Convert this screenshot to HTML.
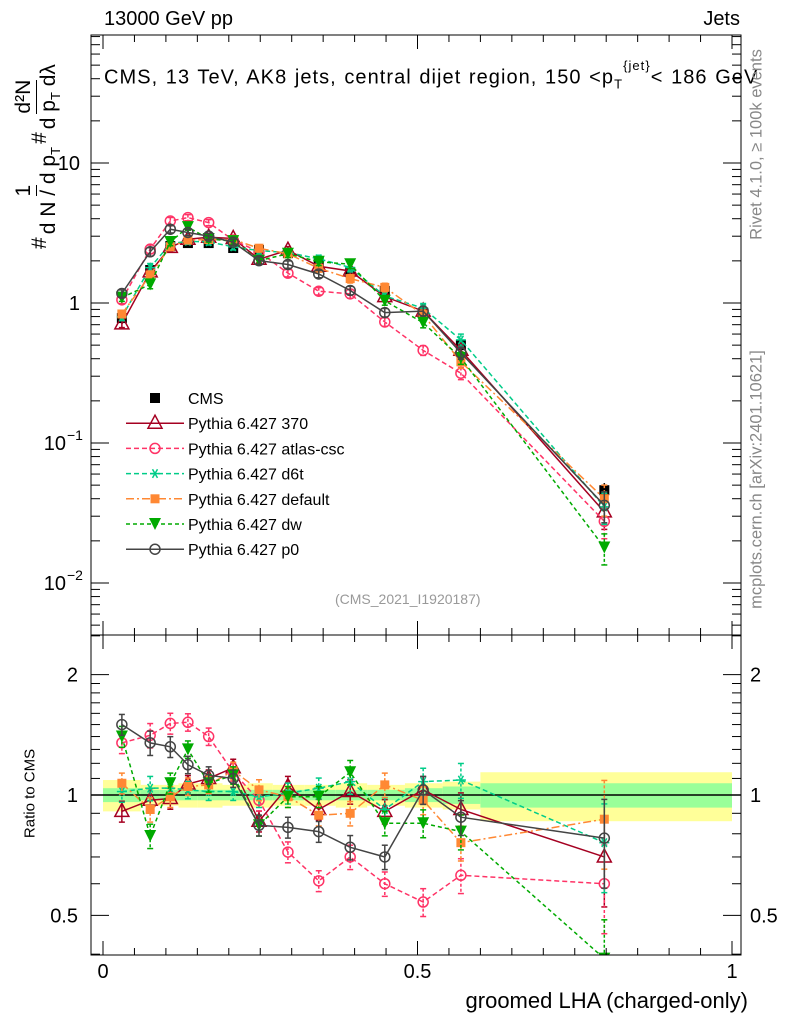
<!DOCTYPE html>
<html><head><meta charset="utf-8"><style>
body{margin:0;background:#fff;font-family:"Liberation Sans",sans-serif}
svg text{font-family:"Liberation Sans",sans-serif}
.fr{display:inline-flex;flex-direction:column;align-items:center;vertical-align:middle;margin:0 3px}
.fr span{line-height:24px}
.fr .num{border-bottom:1.5px solid #000}
</style></head><body>
<svg id="c" width="786" height="1024" xmlns="http://www.w3.org/2000/svg"></svg>
<script>
const xCenters=[0.03,0.075,0.107,0.135,0.168,0.207,0.248,0.294,0.343,0.393,0.448,0.509,0.569,0.797];
const binEdges=[0,0.06,0.09,0.12,0.15,0.19,0.23,0.27,0.32,0.37,0.42,0.48,0.54,0.6,1.0];
const cmsVals=[0.78,1.72,2.55,2.68,2.68,2.47,2.39,2.27,1.99,1.66,1.22,0.85,0.50,0.046];
const relErr=[0.06,0.07,0.06,0.05,0.05,0.05,0.06,0.06,0.06,0.07,0.07,0.08,0.1,0.25];
const bandYellow=[0.09,0.06,0.06,0.07,0.07,0.06,0.07,0.06,0.06,0.07,0.06,0.07,0.08,0.14];
const bandGreen=[0.04,0.03,0.03,0.03,0.03,0.03,0.03,0.03,0.03,0.03,0.03,0.04,0.05,0.07];
const r370=[0.91,0.97,0.98,1.065,1.10,1.17,0.86,1.05,0.92,1.02,0.91,1.03,0.92,0.70];
const rAtlas=[1.35,1.41,1.51,1.52,1.40,1.14,0.97,0.72,0.61,0.70,0.60,0.54,0.63,0.60];
const rD6t=[1.02,1.04,1.04,1.03,1.02,1.02,0.99,1.01,1.04,1.08,0.92,1.08,1.09,0.76];
const rDefault=[1.07,0.92,0.99,1.05,1.06,1.15,1.03,0.99,0.89,0.90,1.06,0.97,0.76,0.87];
const rDw=[1.40,0.79,1.07,1.30,1.07,1.12,0.84,0.99,0.99,1.14,0.85,0.85,0.81,0.39];
const rP0=[1.50,1.35,1.32,1.19,1.12,1.10,0.84,0.83,0.81,0.74,0.70,1.03,0.88,0.78];
const seriesNames=["Pythia 6.427 370","Pythia 6.427 atlas-csc","Pythia 6.427 d6t","Pythia 6.427 default","Pythia 6.427 dw","Pythia 6.427 p0"];

const NS="http://www.w3.org/2000/svg";const svg=document.getElementById('c');
function el(t,a,p){const e=document.createElementNS(NS,t);for(const k in a)e.setAttribute(k,a[k]);(p||svg).appendChild(e);return e;}
const L=91,R=741,MT=35,MB=635,RB=955;
const X=v=>103+v*629;
const YM=v=>303-Math.log10(v)*140;
const YR=v=>795-Math.log10(v)*400;
const defs=el('defs',{});
const c1=el('clipPath',{id:'cm'},defs);el('rect',{x:L,y:MT,width:R-L,height:MB-MT},c1);
const c2=el('clipPath',{id:'cr'},defs);el('rect',{x:L,y:MB,width:R-L,height:RB-MB},c2);
const gM=el('g',{'clip-path':'url(#cm)'});
const gR=el('g',{'clip-path':'url(#cr)'});
for(let i=0;i<xCenters.length;i++){
 const x0=X(binEdges[i]),x1=X(binEdges[i+1]);
 const y=el('rect',{x:x0,y:YR(1+bandYellow[i]),width:x1-x0,height:YR(1-bandYellow[i])-YR(1+bandYellow[i]),fill:'#ffff99'},gR);
 
 const g=el('rect',{x:x0,y:YR(1+bandGreen[i]),width:x1-x0,height:YR(1-bandGreen[i])-YR(1+bandGreen[i]),fill:'#99ff99'},gR);
 
}
el('line',{x1:L,x2:R,y1:YR(1),y2:YR(1),stroke:'#000','stroke-width':1.5},gR);
const styles=[
 {c:'#a50021',d:'',m:'tri'},
 {c:'#ff3366',d:'5,3',m:'circ'},
 {c:'#00cc88',d:'5,3',m:'star'},
 {c:'#ff8833',d:'8,3,2,3',m:'sq'},
 {c:'#00aa00',d:'4,3',m:'tdown'},
 {c:'#444444',d:'',m:'circ'}];
const ratios=[r370,rAtlas,rD6t,rDefault,rDw,rP0];
function marker(g,m,x,y,c){
 if(m=='tri')el('polygon',{points:`${x},${y-8} ${x-7},${y+5} ${x+7},${y+5}`,fill:'#fff','fill-opacity':0,stroke:c,'stroke-width':1.5},g);
 else if(m=='circ')el('circle',{cx:x,cy:y,r:5,fill:'none',stroke:c,'stroke-width':1.5},g);
 else if(m=='sq')el('rect',{x:x-4.5,y:y-4.5,width:9,height:9,fill:c},g);
 else if(m=='tdown')el('polygon',{points:`${x-6},${y-6} ${x+6},${y-6} ${x},${y+6}`,fill:c},g);
 else if(m=='star'){for(const a of [0,60,120])el('line',{x1:x-5*Math.cos(a*Math.PI/180),y1:y-5*Math.sin(a*Math.PI/180),x2:x+5*Math.cos(a*Math.PI/180),y2:y+5*Math.sin(a*Math.PI/180),stroke:c,'stroke-width':1.5},g);}
 else if(m=='blk')el('rect',{x:x-5,y:y-5,width:10,height:10,fill:'#000'},g);
}
const gc=el('g',{},gM);
xCenters.forEach((xv,i)=>{const v=cmsVals[i];
 el('line',{x1:X(xv),x2:X(xv),y1:YM(v*(1+relErr[i]*0.5)),y2:YM(v*(1-relErr[i]*0.5)),stroke:'#000','stroke-width':1.5},gc);
 marker(gc,'blk',X(xv),YM(v),'#000');});
styles.forEach((s,k)=>{
 const r=ratios[k];
 for(const [g,Y,val] of [[gM,YM,i=>cmsVals[i]*r[i]],[gR,YR,i=>r[i]]]){
  const gs=el('g',{},g);
  const pts=xCenters.map((xv,i)=>X(xv)+','+Y(val(i))).join(' ');
  el('polyline',{points:pts,fill:'none',stroke:s.c,'stroke-width':1.5,'stroke-dasharray':s.d},gs);
  xCenters.forEach((xv,i)=>{const v=val(i),e=relErr[i];const x=X(xv);
   el('line',{x1:x,x2:x,y1:Y(v*(1+e)),y2:Y(v*(1-e)),stroke:s.c,'stroke-width':1.5,'stroke-dasharray':s.d?'3,2':''},gs);
   el('line',{x1:x-3,x2:x+3,y1:Y(v*(1+e)),y2:Y(v*(1+e)),stroke:s.c,'stroke-width':1.5},gs);
   el('line',{x1:x-3,x2:x+3,y1:Y(v*(1-e)),y2:Y(v*(1-e)),stroke:s.c,'stroke-width':1.5},gs);
   marker(gs,s.m,x,Y(v),s.c);});
 }
});
el('rect',{x:L,y:MT,width:R-L,height:MB-MT,fill:'none',stroke:'#000','stroke-width':1});
el('rect',{x:L,y:MB,width:R-L,height:RB-MB,fill:'none',stroke:'#000','stroke-width':1});
for(let v=0;v<=1.0001;v+=0.05){const major=Math.round(v*100)%50==0;const len=major?14:7;const x=X(v);
 for(const [t,b] of [[MT,MB],[MB,RB]]){el('line',{x1:x,x2:x,y1:b,y2:b-len,stroke:'#000'});el('line',{x1:x,x2:x,y1:t,y2:t+len,stroke:'#000'});}}
[['0',0],['0.5',0.5],['1',1]].forEach(([t,v])=>{const e=el('text',{x:X(v),y:978,'font-size':20,'text-anchor':'middle'});e.textContent=t;});
for(let d=-3;d<=2;d++)for(let m=1;m<10;m++){const v=m*Math.pow(10,d);const y=YM(v);if(y<MT||y>MB)continue;const len=m==1?18:9;
 el('line',{x1:L,x2:L+len,y1:y,y2:y,stroke:'#000'});el('line',{x1:R,x2:R-len,y1:y,y2:y,stroke:'#000'});}
[['10',10],['1',1]].forEach(([t,v])=>{const e=el('text',{x:80,y:YM(v)+7,'font-size':20,'text-anchor':'end'});e.textContent=t;});
[['10',0.1,'−1'],['10',0.01,'−2']].forEach(([t,v,s])=>{const e=el('text',{x:66,y:YM(v)+7,'font-size':20,'text-anchor':'end'});e.textContent=t;const ee=el('text',{x:67,y:YM(v)-3,'font-size':14});ee.textContent=s;});
for(const v of [0.4,0.5,0.6,0.7,0.8,0.9,1,1.1,1.2,1.3,1.4,1.5,1.6,1.7,1.8,1.9,2,2.5]){const y=YR(v);if(y<MB||y>RB)continue;const len=(v==0.5||v==1||v==2)?18:9;
 el('line',{x1:L,x2:L+len,y1:y,y2:y,stroke:'#000'});el('line',{x1:R,x2:R-len,y1:y,y2:y,stroke:'#000'});}
[['2',2],['1',1],['0.5',0.5]].forEach(([t,v])=>{const a=el('text',{x:78,y:YR(v)+7,'font-size':20,'text-anchor':'end'});a.textContent=t;
 const b=el('text',{x:750,y:YR(v)+7,'font-size':20});b.textContent=t;});
const lg=el('g',{});
const ly0=398,ldy=25.2;
marker(lg,'blk',155,ly0,'#000');{const t=el('text',{x:188,y:ly0+6,'font-size':16},lg);t.textContent='CMS';}
styles.forEach((s,k)=>{const y=ly0+ldy*(k+1);const g=el('g',{},lg);
 el('line',{x1:126,x2:184,y1:y,y2:y,stroke:s.c,'stroke-width':1.5,'stroke-dasharray':s.d},g);marker(g,s.m,155,y,s.c);
 const t=el('text',{x:188,y:y+6,'font-size':16},g);t.textContent=seriesNames[k];});
</script>
<div style="position:absolute;left:104px;top:8px;font-size:20px">13000 GeV pp</div>
<div style="position:absolute;right:46px;top:8px;font-size:20px">Jets</div>
<div style="position:absolute;left:104px;top:64px;font-size:20px;letter-spacing:1.05px;word-spacing:1px;white-space:nowrap">CMS, 13 TeV, AK8 jets, central dijet region, 150 &lt;p<sub style="font-size:13px">T</sub><sup style="font-size:13px;position:relative;top:-6px">{jet}</sup>&lt; 186 GeV</div>
<div style="position:absolute;left:335px;top:591px;font-size:14px;color:#999">(CMS_2021_I1920187)</div>
<div style="position:absolute;right:38px;top:988px;font-size:22px">groomed LHA (charged-only)</div>
<div style="position:absolute;left:-30px;top:785px;width:120px;text-align:center;font-size:15px;transform:rotate(-90deg)">Ratio to CMS</div>
<div style="position:absolute;left:-100px;top:120px;width:280px;height:70px;display:flex;align-items:center;justify-content:center;font-size:21px;transform:rotate(-90deg);white-space:nowrap">#<span class="fr"><span class="num">1</span><span>d N / d p<sub style="font-size:13px">T</sub></span></span>#<span class="fr"><span class="num">d²N</span><span>d p<sub style="font-size:13px">T</sub> dλ</span></span></div>
<div style="position:absolute;left:647px;top:135px;width:220px;text-align:center;font-size:16.5px;color:#888;transform:rotate(-90deg);white-space:nowrap">Rivet 4.1.0, ≥ 100k events</div>
<div style="position:absolute;left:607px;top:470px;width:300px;text-align:center;font-size:16.5px;color:#888;transform:rotate(-90deg);white-space:nowrap">mcplots.cern.ch [arXiv:2401.10621]</div>
</body></html>
